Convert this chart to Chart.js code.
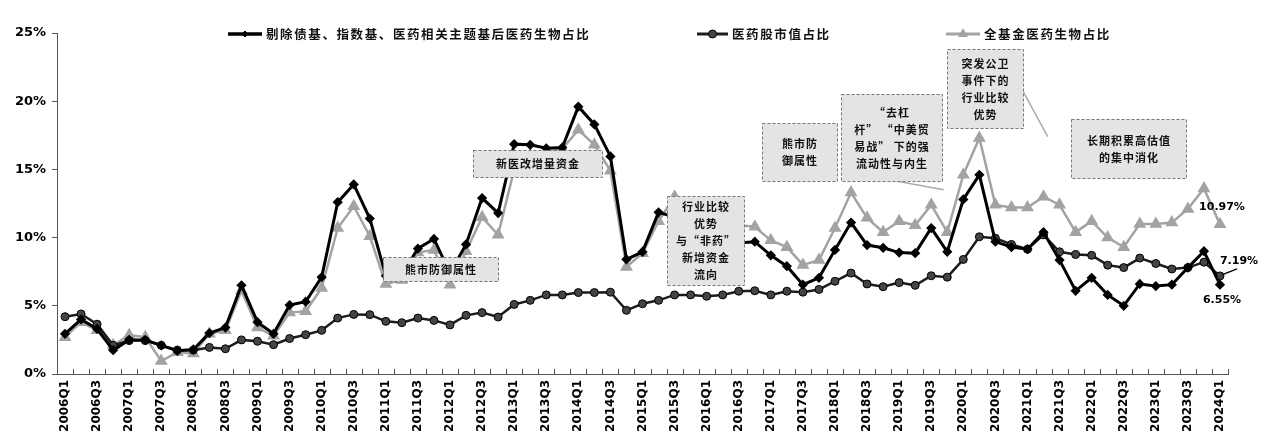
<!DOCTYPE html>
<html>
<head>
<meta charset="utf-8">
<script src="https://cdn.jsdelivr.net/npm/chart.js@4/dist/chart.umd.min.js"></script>
<style>
  html, body { margin: 0; padding: 0; background: #fff; }
  #wrap { width: 1266px; height: 442px; position: relative; }
</style>
</head>
<body>
<div id="wrap"><canvas id="c"></canvas></div>
<script>
/* ---- Datos ---- */
const quarters = [];
for (let yr = 2006; yr <= 2024; yr++) {
  for (let q = 1; q <= 4; q++) {
    if (yr === 2024 && q > 1) break;
    quarters.push(yr + 'Q' + q);
  }
}

const seriesNames = ['剔除债基、指数基、医药相关主题基后医药生物占比', '医药股市值占比', '全基金医药生物占比'];

// 剔除债基、指数基、医药相关主题基后医药生物占比 (%)
const exclShare = [
  2.95, 4.0, 3.3, 1.75, 2.5, 2.5, 2.1, 1.7, 1.8, 3.0, 3.4, 6.5, 3.8, 2.95, 5.05, 5.3,
  7.1, 12.6, 13.9, 11.4, 7.2, 7.3, 9.2, 9.9, 7.4, 9.5, 12.9, 11.8, 16.85, 16.8, 16.55, 16.6,
  19.6, 18.3, 15.95, 8.4, 8.95, 11.85, 11.5, 10.5, 9.9, 9.6, 9.6, 9.7, 8.7, 7.9, 6.55, 7.05,
  9.1, 11.1, 9.45, 9.25, 8.9, 8.86, 10.7, 8.96, 12.8, 14.6, 9.7, 9.3, 9.15, 10.4, 8.35, 6.1,
  7.05, 5.8, 5.0, 6.6, 6.45, 6.55, 7.8, 9.0, 6.55
];

// 医药股市值占比 (%)
const mktShare = [
  4.2, 4.4, 3.65, 2.1, 2.45, 2.45, 2.1, 1.75, 1.75, 1.95, 1.85, 2.5, 2.4, 2.15, 2.6, 2.88,
  3.2, 4.1, 4.37, 4.35, 3.86, 3.76, 4.1, 3.93, 3.6, 4.3, 4.5, 4.18, 5.1, 5.4, 5.8, 5.8,
  5.97, 5.97, 6.0, 4.67, 5.15, 5.4, 5.8, 5.8, 5.7, 5.8, 6.07, 6.1, 5.8, 6.07, 6.0, 6.2,
  6.8, 7.4, 6.6, 6.4, 6.7, 6.5, 7.2, 7.1, 8.4, 10.06, 9.95, 9.5, 9.15, 10.2, 8.96, 8.76,
  8.7, 7.98, 7.8, 8.5, 8.1, 7.7, 7.8, 8.2, 7.19
];

// 全基金医药生物占比 (%)
const allFundShare = [
  2.7, 3.8, 3.2, 2.1, 2.85, 2.7, 0.95, 1.6, 1.5, 2.95, 3.2, 6.1, 3.4, 2.8, 4.5, 4.6,
  6.3, 10.7, 12.3, 10.1, 6.6, 6.9, 8.9, 9.1, 6.55, 9.0, 11.5, 10.2, 15.0, 16.0, 16.3, 16.5,
  17.9, 16.8, 14.9, 7.85, 8.85, 11.2, 13.0, 12.0, 11.4, 11.0, 10.9, 10.8, 9.8, 9.3, 8.0, 8.35,
  10.7, 13.3, 11.45, 10.4, 11.2, 10.9, 12.4, 10.4, 14.6, 17.3, 12.4, 12.2, 12.2, 13.0, 12.4, 10.4,
  11.2, 10.0, 9.3, 11.0, 11.0, 11.1, 12.1, 13.6, 10.97
];

/* ---- Anotaciones (índice de categoría / valor %) ---- */
const notes = [
  { x0: 19.84, x1: 27.0,  top: 8.55,  bottom: 6.8,   lines: ['熊市防御属性'] },
  { x0: 25.45, x1: 33.5,  top: 16.4,  bottom: 14.45, lines: ['新医改增量资金'] },
  { x0: 37.55, x1: 42.35, top: 13.05, bottom: 6.5,   lines: ['行业比较', '优势', '与“非药”', '新增资金', '流向'] },
  { x0: 43.48, x1: 48.15, top: 18.42, bottom: 14.15, lines: ['熊市防', '御属性'] },
  { x0: 48.4,  x1: 54.7,  top: 20.5,  bottom: 14.15, lines: ['“去杠', '杆” “中美贸', '易战” 下的强', '流动性与内生'] },
  { x0: 55.0,  x1: 59.7,  top: 23.8,  bottom: 18.05, lines: ['突发公卫', '事件下的', '行业比较', '优势'] },
  { x0: 62.7,  x1: 69.9,  top: 18.7,  bottom: 14.35, lines: ['长期积累高估值', '的集中消化'] },
];
const connectors = [
  [51.8, 14.15, 54.77, 13.5],
  [59.6, 21.0, 61.26, 17.4],
];

const FONT = '"DejaVu Sans", Verdana, sans-serif';
const CJK = '"Noto Sans CJK SC", sans-serif';

/* ---- Plugin de decoración ---- */
const decor = {
  id: 'decor',
  afterDatasetsDraw(chart) {
    const { ctx, chartArea } = chart;
    const xs = chart.scales.x, ys = chart.scales.y;
    const px = v => xs.getPixelForValue(v);
    const py = v => ys.getPixelForValue(v);
    ctx.save();

    // marcas del eje X entre categorías (hacia arriba)
    ctx.strokeStyle = '#555';
    ctx.lineWidth = 1;
    for (let i = 0; i <= quarters.length; i++) {
      const x = Math.round(px(i - 0.5)) + 0.5;
      ctx.beginPath();
      ctx.moveTo(x, chartArea.bottom);
      ctx.lineTo(x, chartArea.bottom - 5);
      ctx.stroke();
    }

    // líneas conectoras
    ctx.strokeStyle = '#aaa';
    ctx.lineWidth = 1.5;
    connectors.forEach(c => {
      ctx.beginPath();
      ctx.moveTo(px(c[0]), py(c[1]));
      ctx.lineTo(px(c[2]), py(c[3]));
      ctx.stroke();
    });

    // cajas de texto
    notes.forEach(n => {
      const x0 = Math.round(px(n.x0)) + 0.5, x1 = Math.round(px(n.x1)) + 0.5;
      const y0 = Math.round(py(n.top)) + 0.5, y1 = Math.round(py(n.bottom)) + 0.5;
      ctx.fillStyle = '#e4e4e4';
      ctx.fillRect(x0, y0, x1 - x0, y1 - y0);
      ctx.setLineDash([3, 2]);
      ctx.strokeStyle = '#777';
      ctx.lineWidth = 1;
      ctx.strokeRect(x0, y0, x1 - x0, y1 - y0);
      ctx.setLineDash([]);
      ctx.fillStyle = '#111';
      ctx.font = 'bold 11px ' + CJK;
      ctx.letterSpacing = '1px';
      ctx.textAlign = 'center';
      ctx.textBaseline = 'middle';
      const lh = 17;
      const cy = (y0 + y1) / 2 - (n.lines.length - 1) * lh / 2;
      n.lines.forEach((t, k) => ctx.fillText(t, (x0 + x1) / 2, cy + k * lh));
    });
    ctx.letterSpacing = '0px';

    // etiquetas finales
    const last = quarters.length - 1;
    const lx = px(last);
    ctx.font = 'bold 11px ' + FONT;
    ctx.fillStyle = '#000';
    ctx.textAlign = 'center';
    ctx.textBaseline = 'middle';
    ctx.fillText(allFundShare[last].toFixed(2) + '%', lx + 2, py(allFundShare[last]) - 17);
    ctx.fillText(exclShare[last].toFixed(2) + '%', lx + 2, py(exclShare[last]) + 15);
    const my = py(mktShare[last]);
    ctx.strokeStyle = '#000';
    ctx.lineWidth = 1.5;
    ctx.beginPath();
    ctx.moveTo(lx + 2, my - 1);
    ctx.lineTo(lx + 17, my - 7);
    ctx.stroke();
    ctx.fillText(mktShare[last].toFixed(2) + '%', lx + 19, my - 15);

    // leyenda
    const legendPos = [[228, 262], [697, 728], [946, 980]];
    const ly = 34;
    chart.data.datasets.forEach((ds, i) => {
      const [a, b] = legendPos[i];
      ctx.strokeStyle = ds.borderColor;
      ctx.lineWidth = ds.borderWidth + 0.5;
      ctx.beginPath();
      ctx.moveTo(a, ly);
      ctx.lineTo(b, ly);
      ctx.stroke();
      ctx.fillStyle = ds.pointBackgroundColor;
      ctx.strokeStyle = ds.pointBorderColor;
      ctx.lineWidth = 1;
      Chart.helpers.drawPoint(ctx, { pointStyle: ds.pointStyle, radius: ds.pointRadius, borderWidth: 1 }, (a + b) / 2, ly);
      ctx.fillStyle = '#111';
      ctx.font = 'bold 12.5px ' + CJK;
      ctx.letterSpacing = '1.6px';
      ctx.textAlign = 'left';
      ctx.fillText(ds.label, b + 4, ly);
    });
    ctx.letterSpacing = '0px';
    ctx.restore();
  }
};

/* ---- Gráfica ---- */
new Chart(document.getElementById('c'), {
  type: 'line',
  data: {
    labels: quarters,
    datasets: [
      {
        label: seriesNames[0],
        data: exclShare,
        borderColor: '#000',
        borderWidth: 3,
        pointStyle: 'rectRot',
        pointRadius: 3,
        pointBackgroundColor: '#000',
        pointBorderColor: '#000',
        tension: 0,
      },
      {
        label: seriesNames[1],
        data: mktShare,
        borderColor: '#1c1c1c',
        borderWidth: 2.5,
        pointStyle: 'circle',
        pointRadius: 4,
        pointBackgroundColor: '#444',
        pointBorderColor: '#000',
        pointBorderWidth: 1,
        tension: 0,
      },
      {
        label: seriesNames[2],
        data: allFundShare,
        borderColor: '#a3a3a3',
        borderWidth: 2.5,
        pointStyle: 'triangle',
        pointRadius: 5,
        pointBackgroundColor: '#a3a3a3',
        pointBorderColor: '#a3a3a3',
        tension: 0,
      },
    ],
  },
  options: {
    responsive: true,
    maintainAspectRatio: false,
    animation: false,
    devicePixelRatio: 1,
    layout: { padding: { top: 33, right: 38, left: 0, bottom: 0 } },
    plugins: { legend: { display: false }, tooltip: { enabled: false } },
    scales: {
      x: {
        offset: true,
        grid: { display: true, drawOnChartArea: false, drawTicks: false, offset: true },
        border: { display: true, color: '#555', width: 1 },
        ticks: {
          autoSkip: false,
          maxRotation: 90,
          minRotation: 90,
          padding: 6,
          color: '#000',
          font: { family: FONT, size: 12, weight: 'bold' },
          callback: (v, i) => (i % 2 === 0 ? quarters[i] : ''),
        },
        afterFit: s => { s.height = 68; },
      },
      y: {
        min: 0,
        max: 25,
        grid: { display: true, drawOnChartArea: false, tickLength: 5, color: '#555' },
        border: { display: true, color: '#555', width: 1 },
        ticks: {
          stepSize: 5,
          padding: 6,
          color: '#000',
          font: { family: FONT, size: 13, weight: 'bold' },
          callback: v => v + '%',
        },
        afterFit: s => { s.width = 57; },
      },
    },
  },
  plugins: [decor],
});
</script>
</body>
</html>
